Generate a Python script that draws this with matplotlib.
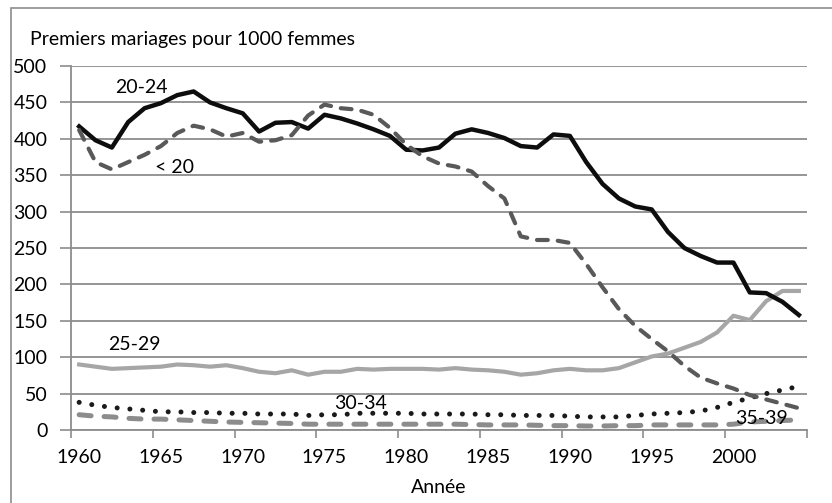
import numpy as np
import matplotlib
matplotlib.use('Agg')
import matplotlib.pyplot as plt
from matplotlib.patches import Rectangle

plt.rcParams['font.family'] = ['Lato', 'DejaVu Sans']

years = np.arange(1960, 2005)

under_20 = [412, 368, 358, 368, 378, 390, 408, 418, 413, 403,
            408, 396, 398, 405, 432, 447, 442, 440, 433, 415,
            392, 376, 366, 362, 355, 335, 318, 266, 261, 261,
            257, 228, 196, 166, 143, 125, 108, 88, 72, 64,
            57, 48, 42, 36, 30]
age_20_24 = [417, 398, 388, 423, 442, 449, 460, 465, 450, 442,
             435, 410, 422, 423, 414, 433, 428, 421, 413, 404,
             385, 384, 388, 407, 413, 408, 401, 390, 388, 406,
             404, 368, 338, 318, 307, 303, 272, 250, 239, 230,
             230, 189, 188, 176, 158]
age_25_29 = [90, 87, 84, 85, 86, 87, 90, 89, 87, 89,
             85, 80, 78, 82, 76, 80, 80, 84, 83, 84,
             84, 84, 83, 85, 83, 82, 80, 76, 78, 82,
             84, 82, 82, 85, 93, 101, 105, 113, 121, 134,
             157, 151, 177, 191, 191]
age_30_34 = [38, 34, 31, 29, 27, 25, 25, 24, 24, 23,
             23, 22, 22, 22, 20, 21, 21, 23, 23, 23,
             23, 22, 22, 22, 22, 21, 21, 20, 20, 20,
             19, 18, 18, 18, 20, 22, 23, 24, 26, 31,
             38, 44, 50, 55, 60]
age_35_39 = [21, 19, 18, 16, 15, 15, 14, 13, 12, 11,
             10.5, 10, 9.5, 9, 8, 8, 8, 8, 8, 8,
             8, 8, 8, 8, 7.5, 7, 7, 7, 6.5, 6,
             6, 5.5, 5.5, 6, 6, 7, 7, 7, 7, 7,
             8, 11, 12, 13, 14]

fs = 14

fig = plt.figure(figsize=(8.32, 5.03), dpi=100)
ax = fig.add_axes([0.0853, 0.1451, 0.8847, 0.7237])

# cadre gris autour du graphique (coupé à droite et en bas)
fig.patches.append(Rectangle((11 / 832, -0.05), 1.0, 1 - 8 / 503 + 0.05,
                             transform=fig.transFigure, fill=False,
                             edgecolor='#8c8c8c', linewidth=1.2))

ax.plot(years, age_35_39, color='#8c8c8c', lw=3.6, dashes=(2.4, 2.6),
        dash_capstyle='round', zorder=3)
ax.plot(years, age_30_34, color='#1a1a1a', lw=3.6, dashes=(0.01, 2.55),
        dash_capstyle='round', zorder=4)
ax.plot(years, age_25_29, color='#a6a6a6', lw=3.0, solid_joinstyle='round',
        zorder=5)
ax.plot(years, age_20_24, color='#0d0d0d', lw=3.2, solid_joinstyle='round',
        zorder=6)
ax.plot(years, under_20, color='#595959', lw=3.0, dashes=(2.6, 2.4),
        dash_capstyle='round', zorder=7)

ax.text(1963.8, 471, '20-24', fontsize=fs, ha='center', va='center')
ax.text(1965.8, 361, '< 20', fontsize=fs, ha='center', va='center')
ax.text(1963.4, 117, '25-29', fontsize=fs, ha='center', va='center')
ax.text(1977.2, 37, '30-34', fontsize=fs, ha='center', va='center')
ax.text(2001.7, 16.5, '35-39', fontsize=fs, ha='center', va='center',
        zorder=8)

ax.set_xlim(1959.5, 2004.5)
ax.set_ylim(0, 500)
ax.set_yticks(np.arange(0, 501, 50))
ax.set_xticks(np.arange(1959.5, 2005, 5))
ax.set_xticklabels([])
ax.set_xticks(np.arange(1960, 2001, 5), minor=True)
ax.set_xticklabels([str(y) for y in range(1960, 2001, 5)], minor=True)
ax.tick_params(axis='x', which='major', length=6, width=1.2, color='#8c8c8c',
               direction='out')
ax.tick_params(axis='x', which='minor', length=0, labelsize=fs, pad=14)
ax.tick_params(axis='y', length=8, width=1.2, color='#8c8c8c',
               labelsize=fs, pad=9)

ax.grid(axis='y', color='#8c8c8c', lw=1.3)
ax.set_axisbelow(True)
for s in ['top', 'right']:
    ax.spines[s].set_visible(False)
for s in ['left', 'bottom']:
    ax.spines[s].set_color('#8c8c8c')
    ax.spines[s].set_linewidth(1.3)

ax.set_xlabel('Année', fontsize=fs, labelpad=9)
fig.text(30 / 832, 1 - 40 / 503, 'Premiers mariages pour 1000 femmes',
         fontsize=fs, ha='left', va='center')

plt.savefig('out.png', dpi=100)
